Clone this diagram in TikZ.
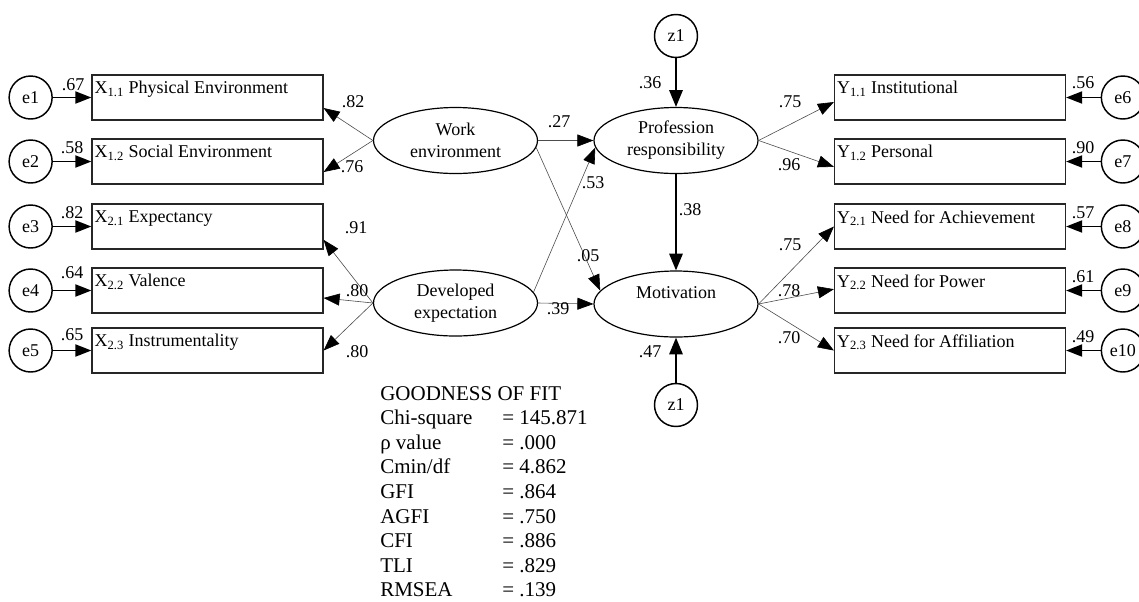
\documentclass[tikz,border=0pt]{standalone}
\usepackage{fontspec}
\setmainfont{Liberation Serif}
\usetikzlibrary{arrows.meta,positioning,shapes.geometric}

\begin{document}
\begin{tikzpicture}[
    x=0.75pt, y=-0.75pt,
    >={Triangle[length=12pt,width=9pt]},
    font=\fontsize{13.5}{16.5}\selectfont,
    indicator/.style={draw=black!85, line width=0.9pt, minimum width=173.25pt, minimum height=33.75pt, inner sep=0pt,
        label={[anchor=north west, inner xsep=2.25pt, inner ysep=5pt]north west:#1}},
    factor/.style={draw, ellipse, line width=0.9pt, minimum width=123pt, minimum height=49.5pt, inner sep=0pt, align=center},
    resid/.style={draw, circle, line width=1.1pt, minimum size=32.25pt, inner sep=0pt},
    load/.style={-{Triangle[length=12pt,width=9pt,color=black]}, draw=black!70, line width=0.45pt},
    errline/.style={->, line width=1.4pt},
    coef/.style={inner sep=0pt}
]
\useasboundingbox (0,0) rectangle (1139,601);

\node[indicator={X\textsubscript{1.1} Physical Environment}] (x11) at (207.5,97.5) {};
\node[indicator={X\textsubscript{1.2} Social Environment}] (x12) at (207.5,161.5) {};
\node[indicator={X\textsubscript{2.1} Expectancy}] (x21) at (207.5,226.5) {};
\node[indicator={X\textsubscript{2.2} Valence}] (x22) at (207.5,290.5) {};
\node[indicator={X\textsubscript{2.3} Instrumentality}] (x23) at (207.5,350.5) {};

\node[indicator={Y\textsubscript{1.1} Institutional}] (y11) at (950,97.5) {};
\node[indicator={Y\textsubscript{1.2} Personal}] (y12) at (950,161.5) {};
\node[indicator={Y\textsubscript{2.1} Need for Achievement}] (y21) at (950,226.5) {};
\node[indicator={Y\textsubscript{2.2} Need for Power}] (y22) at (950,290.5) {};
\node[indicator={Y\textsubscript{2.3} Need for Affiliation}] (y23) at (950,350.5) {};

\node[resid, left=28.9pt of x11] (e1) {e1};
\node[resid, left=28.9pt of x12] (e2) {e2};
\node[resid, left=28.9pt of x21] (e3) {e3};
\node[resid, left=28.9pt of x22] (e4) {e4};
\node[resid, left=28.9pt of x23] (e5) {e5};
\node[resid, right=25.9pt of y11] (e6) {e6};
\node[resid, right=25.9pt of y12] (e7) {e7};
\node[resid, right=25.9pt of y21] (e8) {e8};
\node[resid, right=25.9pt of y22] (e9) {e9};
\node[resid, right=25.9pt of y23] (e10) {e10};

\node[factor] (work) at (455.5,140.5) {Work\\environment};
\node[factor] (dev) at (455.5,303) {Developed\\expectation};
\node[factor] (prof) at (676,140.5) {Profession\\responsibility};
\node[factor] (mot) at (676,304) {Motivation\\\mbox{}};
\node[resid] (z1top) at (676,36) {z1};
\node[resid] (z1bot) at (676,405) {z1};

\draw[errline] (e1) -- (x11);
\draw[errline] (e2) -- (x12);
\draw[errline] (e3) -- (x21);
\draw[errline] (e4) -- (x22);
\draw[errline] (e5) -- (x23);
\draw[errline] (e6) -- (y11);
\draw[errline] (e7) -- (y12);
\draw[errline] (e8) -- (y21);
\draw[errline] (e9) -- (y22);
\draw[errline] (e10) -- (y23);

\draw[load] (work.west) -- ([yshift=-7.9pt]x11.east);
\draw[load] (work.west) -- ([yshift=-7.9pt]x12.east);
\draw[load] (dev.west) -- ([yshift=-10pt]x21.east);
\draw[load] (dev.west) -- ([yshift=-5.6pt]x22.east);
\draw[load] (dev.west) -- (x23.east);
\draw[load] (work.east) -- (prof.west);
\draw[load] (work.-5) -- (mot.170);
\draw[load] (dev.8) -- (prof.185);
\draw[load] (dev.east) -- (mot.west);
\draw[load] (prof.east) -- ([yshift=-3.4pt]y11.west);
\draw[load] (prof.east) -- ([yshift=-4pt]y12.west);
\draw[load] (mot.east) -- (y21.west);
\draw[load] (mot.east) -- ([yshift=1pt]y22.west);
\draw[load] (mot.east) -- (y23.west);
\draw[->, line width=1.3pt, >={Triangle[length=12.5pt,width=10pt]}] (z1top) -- (prof);
\draw[->, line width=1.3pt, >={Triangle[length=12.5pt,width=10pt]}] (prof) -- (mot);
\draw[->, line width=1.3pt, >={Triangle[length=12.5pt,width=10pt]}] (z1bot) -- (mot);

\node[coef] (c67) at (73,85) {.67};
\node[coef] (c58) at (72,148) {.58};
\node[coef] (c82e) at (72,213) {.82};
\node[coef] (c64) at (72,273) {.64};
\node[coef] (c65) at (72,335) {.65};
\node[coef] (c56) at (1083,83) {.56};
\node[coef] (c90) at (1083,148) {.90};
\node[coef] (c57) at (1083,213) {.57};
\node[coef] (c61) at (1083,277) {.61};
\node[coef] (c49) at (1083,337) {.49};

\node[coef] (c82) at (353,102) {.82};
\node[coef] (c76) at (352,167) {.76};
\node[coef] (c91) at (356,228) {.91};
\node[coef] (c80a) at (357,291) {.80};
\node[coef] (c80b) at (357,352) {.80};
\node[coef] (c27) at (559,122) {.27};
\node[coef] (c53) at (593,183) {.53};
\node[coef] (c05) at (588,256) {.05};
\node[coef] (c39) at (558,309) {.39};
\node[coef] (c36) at (650,83) {.36};
\node[coef] (c38) at (690,210) {.38};
\node[coef] (c47) at (650,352) {.47};
\node[coef] (c75a) at (790,102) {.75};
\node[coef] (c96) at (789,165) {.96};
\node[coef] (c75b) at (790,245) {.75};
\node[coef] (c78) at (789,291) {.78};
\node[coef] (c70) at (789,338) {.70};

\node[anchor=north west, inner sep=0pt, align=left, font=\fontsize{15.75}{18.45}\selectfont] (fit) at (380,386) {GOODNESS OF FIT\\
\makebox[91.5pt][l]{Chi-square}= 145.871\\
\makebox[91.5pt][l]{ρ value}= .000\\
\makebox[91.5pt][l]{Cmin/df}= 4.862\\
\makebox[91.5pt][l]{GFI}= .864\\
\makebox[91.5pt][l]{AGFI}= .750\\
\makebox[91.5pt][l]{CFI}= .886\\
\makebox[91.5pt][l]{TLI}= .829\\
\makebox[91.5pt][l]{RMSEA}= .139};
\end{tikzpicture}
\end{document}
